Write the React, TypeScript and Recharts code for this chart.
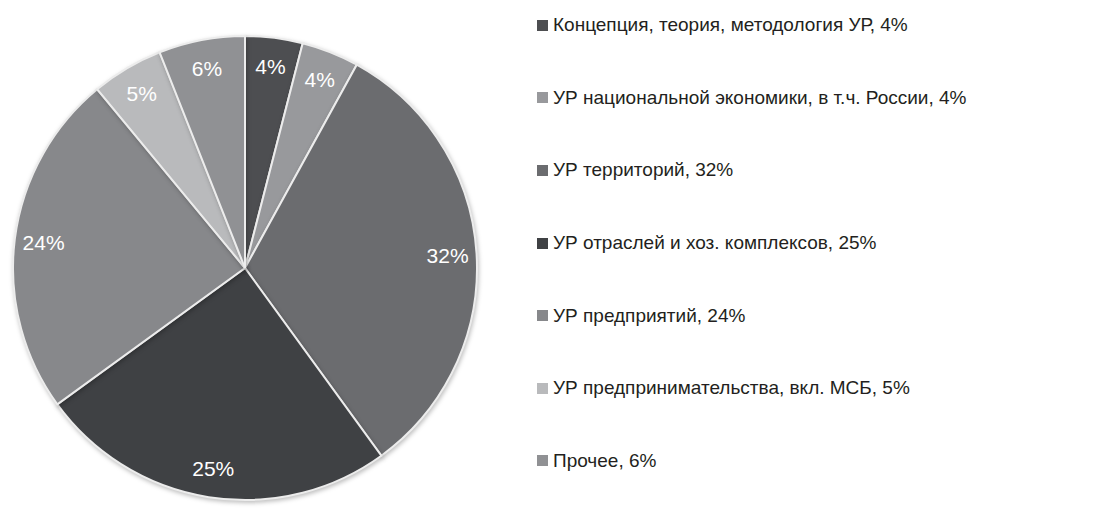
import { PieChart, Pie, Cell, Legend } from "recharts"

const names = [
  "Концепция, теория, методология УР",
  "УР национальной экономики, в т.ч. России",
  "УР территорий",
  "УР отраслей и хоз. комплексов",
  "УР предприятий",
  "УР предпринимательства, вкл. МСБ",
  "Прочее",
]
const values = [4, 4, 32, 25, 24, 5, 6]
const colors = ["#4d4e51", "#98999c", "#6b6c6f", "#3f4144", "#87888b", "#b9babc", "#909194"]

const data = names.map((name, i) => ({ name, value: values[i] }))

const RAD = Math.PI / 180

function renderLabel(props: any) {
  const { cx, cy, midAngle, outerRadius, value } = props
  const r = outerRadius * 0.875
  const x = cx + r * Math.cos(-midAngle * RAD)
  const y = cy + r * Math.sin(-midAngle * RAD)
  return (
    <text
      x={x}
      y={y}
      fill="#ffffff"
      fontSize={21}
      textAnchor="middle"
      dominantBaseline="central"
      fontFamily="'Liberation Sans', Arial, sans-serif"
    >
      {`${value}%`}
    </text>
  )
}

function LegendList() {
  return (
    <div style={{ fontFamily: "'Liberation Sans', Arial, sans-serif", fontSize: 19, color: "#231f20" }}>
      {data.map((d, i) => (
        <div key={d.name} style={{ height: 72.6, display: "flex", alignItems: "center" }}>
          <span
            style={{
              display: "inline-block",
              width: 11,
              height: 11,
              background: colors[i],
              marginRight: 5,
            }}
          />
          <span>{`${d.name}, ${d.value}%`}</span>
        </div>
      ))}
    </div>
  )
}

export default function App() {
  return (
    <div style={{ width: 1107, height: 508, background: "#fff" }}>
      <style>{"body{margin:0}"}</style>
      <PieChart width={1107} height={508} margin={{ top: 0, right: 0, bottom: 0, left: 0 }}>
        <Pie
          data={data}
          dataKey="value"
          cx={245}
          cy={268}
          outerRadius={232}
          startAngle={90}
          endAngle={-270}
          stroke="#ececec"
          strokeWidth={2}
          label={renderLabel}
          labelLine={false}
          isAnimationActive={false}
          style={{ filter: "drop-shadow(1px 2px 2px rgba(0,0,0,0.25))" }}
        >
          {data.map((d, i) => (
            <Cell key={d.name} fill={colors[i]} />
          ))}
        </Pie>
        <Legend
          layout="vertical"
          content={() => <LegendList />}
          wrapperStyle={{ left: 537, top: -11, width: 560 }}
        />
      </PieChart>
    </div>
  )
}
